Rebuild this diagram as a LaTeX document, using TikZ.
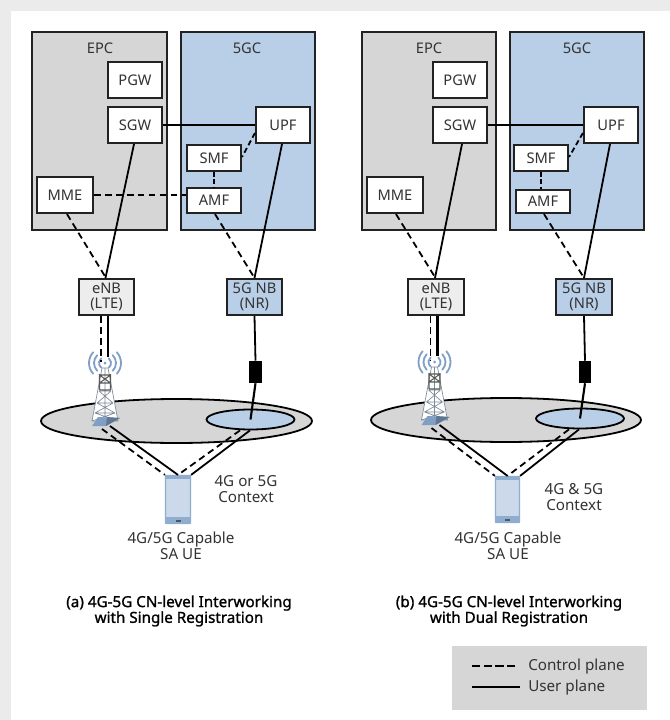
\documentclass[tikz,border=0pt]{standalone}
\usepackage{fontspec}
\setmainfont{Noto Sans}
\usetikzlibrary{calc,shapes.geometric}
\definecolor{pagegray}{HTML}{EBEBEB}
\definecolor{coregray}{HTML}{D6D6D6}
\definecolor{coreblue}{HTML}{B9CFE8}
\definecolor{engray}{HTML}{EDEDED}
\definecolor{ink}{HTML}{333333}
\definecolor{frame}{HTML}{222222}
\definecolor{waveblue}{HTML}{7F9FC4}
\definecolor{phoneedge}{HTML}{8FAECF}
\definecolor{phonefill}{HTML}{CBD9EA}
\definecolor{towerline}{HTML}{7D8A99}
\tikzset{
  x=0.75pt,y=-0.75pt,
  boxed/.style={draw=frame,line width=1.3pt,inner sep=0pt,align=center,text=ink,font=\fontsize{11}{11.4}\selectfont},
  corelabel/.style={text=ink,font=\fontsize{11}{12}\selectfont,inner sep=0pt,align=center},
  notelabel/.style={text=ink,font=\fontsize{11.4}{12}\selectfont,inner sep=0pt,align=center},
  caption/.style={text=black,font=\fontsize{11.4}{11.8}\selectfont\addfontfeature{FakeBold=1.2},inner sep=0pt,align=center},
  userp/.style={draw=black,line width=1.35pt},
  ctrlp/.style={draw=black,line width=1.35pt,dash pattern=on 5pt off 3.2pt},
}
% name, x1,y1,x2,y2, fill, text
\newcommand\boxfrom[7]{\node[boxed,fill=#6,minimum width={(#4-#2-1.6)*0.75pt},minimum height={(#5-#3-1.6)*0.75pt}] (#1) at ({(#2+#4)/2},{(#3+#5)/2}) {#7};}
% name, centre x, centre y
\newcommand\towerat[3]{%
  \coordinate (#1) at (#2,#3);
  \begin{scope}[shift={(#2,#3)}]
    \begin{scope}[waveblue,line width=1.35pt,line cap=round]
      \foreach \r/\a in {6/50,11/45,16/42}{
        \draw ({-\r*cos(\a)},{\r*sin(\a)}) arc[start angle=180-\a,end angle=180+\a,radius=\r];
        \draw ({\r*cos(\a)},{\r*sin(\a)}) arc[start angle=\a,end angle=-\a,radius=\r];
      }
    \end{scope}
    \fill[waveblue] (0,0) circle[radius=1.5];
    \draw[towerline,line width=0.5pt,fill=white] (-3,5) -- (3,5) -- (13,58) -- (-13,58) -- cycle;
    \draw[towerline,line width=0.5pt] (-6,28) -- (6,28) (-8,40) -- (8,40) (-10,50) -- (10,50)
      (-6,28) -- (8,40) (6,28) -- (-8,40) (-8,40) -- (10,50) (8,40) -- (-10,50) (-10,50) -- (13,58) (10,50) -- (-13,58) (0,5) -- (0,58);
    \draw[frame!75,line width=0.8pt] (-5.5,11) -- (-5.5,27) (5.5,11) -- (5.5,27) (-5.5,12) -- (5.5,12) (-5.5,20) -- (5.5,20) (-5.5,27) -- (5.5,27) (-5.5,12) -- (5.5,20) (5.5,12) -- (-5.5,20);
    \fill[waveblue] (-13,63) -- (1,63) -- (15,55) -- (-7,54) -- cycle;
    \fill[waveblue!75!black] (1,63) -- (15,55) -- (2,54) -- cycle;
  \end{scope}}
% name, x1,y1,x2,y2
\newcommand\phoneat[5]{%
  \node[draw=phoneedge,fill=phonefill,line width=0.9pt,rounded corners=1pt,inner sep=0pt,minimum width={(#4-#2-1)*0.75pt},minimum height={(#5-#3-1)*0.75pt}] (#1) at ({(#2+#4)/2},{(#3+#5)/2}) {};
  \fill[phoneedge] (#2,#3) rectangle (#4,#3+4);
  \fill[phoneedge] (#2,#5-7) rectangle (#4,#5);
  \fill[ink!70!phoneedge] ({(#2+#4)/2-2.5},#5-4.5) rectangle ({(#2+#4)/2+2.5},#5-2.5);}
\begin{document}
\begin{tikzpicture}
\useasboundingbox (0,0) rectangle (670,720);
\fill[pagegray] (0,0) rectangle (670,720);
\fill[white] (11,11) rectangle (670,720);

% ---------- left panel
\boxfrom{epcA}{31}{31}{168}{231}{coregray}{}
\boxfrom{gcA}{180}{31}{316}{231}{coreblue}{}
\node[corelabel] (epcAt) at (100,48) {EPC};
\node[corelabel] (gcAt) at (247,48) {5GC};
\boxfrom{pgwA}{107}{61}{163}{99}{white}{PGW}
\boxfrom{sgwA}{107}{106}{163}{144}{white}{SGW}
\boxfrom{upfA}{255}{106}{311}{144}{white}{UPF}
\boxfrom{smfA}{186}{144}{242}{172}{white}{SMF}
\boxfrom{amfA}{186}{187}{242}{214}{white}{AMF}
\boxfrom{mmeA}{36}{176}{94}{214}{white}{MME}
\boxfrom{enbA}{78}{278}{135}{316}{engray}{eNB\\(LTE)}
\boxfrom{nbA}{226}{278}{283}{316}{coreblue}{5G NB\\(NR)}
\draw[draw=black,line width=1.35pt,fill=coregray] (176.5,421) ellipse[x radius=135.5,y radius=22];
\node[draw=black,line width=1.35pt,fill=coreblue,ellipse,inner sep=0pt,minimum width=66pt,minimum height=15pt] (cellA) at (250.5,419.5) {};
\draw[userp] (sgwA.south -| 134,0) -- (enbA.north -| 105.5,0);
\draw[userp] (upfA.south -| 282,0) -- (nbA.north);
\draw[userp] (sgwA.east |- 0,125) -- (upfA.west |- 0,125);
\draw[ctrlp] (mmeA.south -| 67,0) -- (enbA.north -| 106,0);
\draw[ctrlp] (amfA.south -| 215,0) -- (nbA.north);
\draw[ctrlp] (mmeA.east |- 0,195) -- (amfA.west |- 0,195);
\draw[ctrlp,dash pattern=on 3.5pt off 2pt] (smfA.south) -- (amfA.north);
\draw[ctrlp,dash pattern=on 4pt off 2.4pt] (upfA.west |- 0,133) -- (smfA.east |- 0,157);
\towerat{towerA}{105}{363}
\node[fill=black,draw=none,inner sep=0pt,minimum width=9.7pt,minimum height=16.5pt] (chokeA) at (255.5,372) {};
\draw[userp] (nbA.south) -- (chokeA.north);
\draw[userp,line width=1.6pt] (chokeA.south) -- (cellA.center);
\draw[ctrlp] (enbA.south -| 101,0) -- (101,362);
\draw[userp,line width=1.6pt] (enbA.south -| 108,0) -- (108,357);
\phoneat{ueA}{165}{475}{191}{524}
\draw[userp] (towerA |- 0,426) ++(5,0) -- (ueA.north);
\draw[ctrlp] (towerA |- 0,429) ++(-3,0) -- (ueA.north west);
\draw[ctrlp] (cellA.south -| 240,0) -- (ueA.north);
\draw[userp] (cellA.south -| 250,0) -- (ueA.north east);
\node[notelabel] (noteA) at (246,489.5) {4G or 5G\\Context};
\node[notelabel] (ueAt) at (181,546) {4G/5G Capable\\SA UE};
\node[caption] (capA) at (179,611) {(a) 4G-5G CN-level Interworking\\with Single Registration};

% ---------- right panel
\boxfrom{epcB}{361}{31}{497}{231}{coregray}{}
\boxfrom{gcB}{509}{31}{645}{231}{coreblue}{}
\node[corelabel] (epcBt) at (429,48) {EPC};
\node[corelabel] (gcBt) at (577,48) {5GC};
\boxfrom{pgwB}{432}{61}{488}{99}{white}{PGW}
\boxfrom{sgwB}{432}{106}{488}{144}{white}{SGW}
\boxfrom{upfB}{583}{106}{639}{144}{white}{UPF}
\boxfrom{smfB}{513}{144}{569}{172}{white}{SMF}
\boxfrom{amfB}{515}{189}{571}{214}{white}{AMF}
\boxfrom{mmeB}{366}{176}{424}{214}{white}{MME}
\boxfrom{enbB}{407.5}{278}{464.5}{316}{engray}{eNB\\(LTE)}
\boxfrom{nbB}{555.5}{278}{612.5}{316}{coreblue}{5G NB\\(NR)}
\draw[draw=black,line width=1.35pt,fill=coregray] (506,420) ellipse[x radius=135,y radius=22];
\node[draw=black,line width=1.35pt,fill=coreblue,ellipse,inner sep=0pt,minimum width=66pt,minimum height=15pt] (cellB) at (580,418.5) {};
\draw[userp] (sgwB.south -| 462,0) -- (enbB.north -| 435,0);
\draw[userp] (upfB.south -| 610,0) -- (nbB.north);
\draw[userp] (sgwB.east |- 0,125) -- (upfB.west |- 0,125);
\draw[ctrlp] (mmeB.south -| 396,0) -- (enbB.north -| 435.5,0);
\draw[ctrlp] (amfB.south -| 544,0) -- (nbB.north);
\draw[ctrlp,dash pattern=on 3.5pt off 2pt] (smfB.south -| 541,0) -- (amfB.north -| 541,0);
\draw[ctrlp,dash pattern=on 4pt off 2.4pt] (upfB.west |- 0,133) -- (smfB.east |- 0,157);
\towerat{towerB}{434.5}{362}
\node[fill=black,draw=none,inner sep=0pt,minimum width=9.7pt,minimum height=16.5pt] (chokeB) at (585,372) {};
\draw[userp] (nbB.south) -- (chokeB.north);
\draw[userp,line width=1.6pt] (chokeB.south) -- (cellB.center);
\draw[ctrlp] (enbB.south -| 430.5,0) -- (430.5,361);
\draw[userp,line width=1.6pt] (enbB.south -| 437.5,0) -- (437.5,356);
\phoneat{ueB}{495}{476}{520}{523}
\draw[userp] (towerB |- 0,425) ++(5,0) -- (ueB.north);
\draw[ctrlp] (towerB |- 0,428) ++(-3,0) -- (ueB.north west);
\draw[ctrlp] (cellB.south -| 569,0) -- (ueB.north);
\draw[userp] (cellB.south -| 579,0) -- (ueB.north east);
\node[notelabel] (noteB) at (574,497) {4G \& 5G\\Context};
\node[notelabel] (ueBt) at (508,546) {4G/5G Capable\\SA UE};
\node[caption] (capB) at (509,611) {(b) 4G-5G CN-level Interworking\\with Dual Registration};

% ---------- legend
\fill[coregray] (452,646) rectangle (647,710);
\coordinate (ctrlL) at (472,666);
\coordinate (ctrlR) at (517,666);
\coordinate (userL) at (472,687);
\coordinate (userR) at (520,687);
\draw[ctrlp,dash pattern=on 6.2pt off 2.6pt] (ctrlL) -- (ctrlR);
\draw[userp] (userL) -- (userR);
\node[notelabel,anchor=west] (ctrlT) at (528,667) {Control plane};
\node[notelabel,anchor=west] (userT) at (528,688) {User plane};
\end{tikzpicture}
\end{document}
